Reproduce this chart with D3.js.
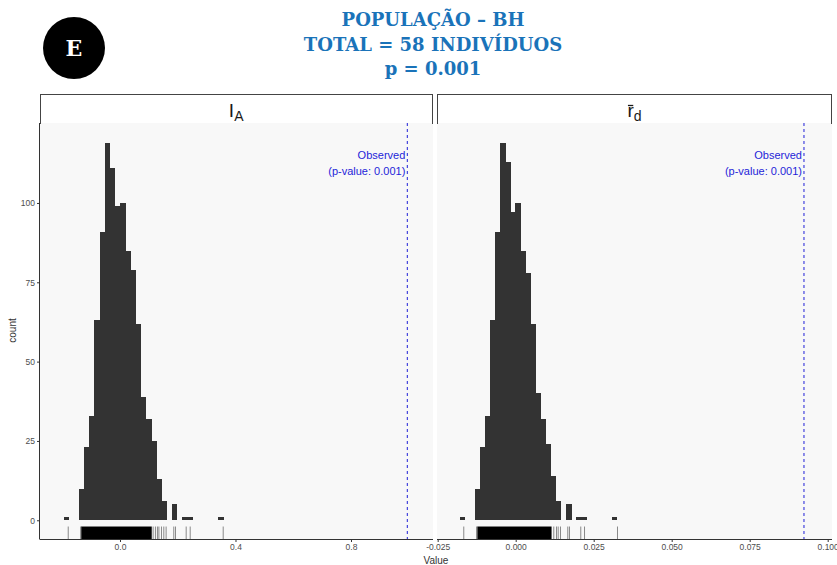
<!DOCTYPE html>
<html>
<head>
<meta charset="utf-8">
<script src="https://cdn.jsdelivr.net/npm/d3@7"></script>
<style>
  html, body { margin: 0; padding: 0; background: #ffffff; }
  svg { display: block; }
</style>
</head>
<body>
<svg id="chart" width="837" height="565"></svg>
<script>
// ---------------- DATA ----------------
const titleLines = ["POPULAÇÃO – BH", "TOTAL = 58 INDIVÍDUOS", "p = 0.001"];
const badgeLetter = "E";

const yTicks = [0, 25, 50, 75, 100];
const iaXTicks = [0.0, 0.4, 0.8];
const iaXTickLabels = ["0.0", "0.4", "0.8"];
const rdXTicks = [-0.025, 0.000, 0.025, 0.050, 0.075, 0.100];
const rdXTickLabels = ["-0.025", "0.000", "0.025", "0.050", "0.075", "0.100"];

// I_A histogram (bin left edges, counts)
const iaBinWidth = 0.01784;
const iaBinX0 = [-0.1955, -0.1420, -0.1241, -0.1063, -0.0884, -0.0706, -0.0527, -0.0349, -0.0170,
                 0.0008, 0.0187, 0.0365, 0.0544, 0.0722, 0.0901, 0.1079, 0.1258, 0.1436,
                 0.1793, 0.2150, 0.2328, 0.3399];
const iaCounts = [1, 10, 23, 33, 63, 91, 119, 111, 99,
                  100, 85, 79, 62, 39, 32, 25, 13, 6,
                  5, 1, 1, 1];
const iaObserved = 0.995;
const iaRug = [-0.181, -0.138, -0.135, 0.113, 0.121, 0.128, 0.133, 0.142, 0.150, 0.158,
               0.1846, 0.1905, 0.2275, 0.2414, 0.3557];
const iaRugDense = [[-0.1335, 0.110]];

// r_d histogram
const rdBinWidth = 0.001622;
const rdBinX0 = [-0.01791, -0.01304, -0.01142, -0.00980, -0.00818, -0.00655, -0.00493, -0.00331, -0.00169,
                 -0.00007, 0.00155, 0.00318, 0.00480, 0.00642, 0.00804, 0.00966, 0.01129, 0.01291,
                 0.01615, 0.01940, 0.02102, 0.03075];
const rdCounts = [1, 10, 23, 33, 63, 91, 119, 113, 97,
                  100, 85, 78, 62, 40, 32, 24, 14, 6,
                  5, 1, 1, 1];
const rdObserved = 0.0924;
const rdRug = [-0.0168, -0.0127, -0.0124, 0.01205, 0.01292, 0.01346, 0.0142,
               0.01654, 0.01708, 0.0207, 0.0219, 0.03247];
const rdRugDense = [[-0.0122, 0.0115]];

const observedLabel = ["Observed", "(p-value: 0.001)"];

// ---------------- LAYOUT ----------------
const svg = d3.select("#chart");
const panelTop = 123, panelBottom = 539, stripTop = 94;
const titleColor = "#1a73b9";
const obsColor = "#1f1fd8";
const barColor = "#333333";
const axisColor = "#333333";
const tickLabelColor = "#4d4d4d";
const sansFont = "'Liberation Sans', Arial, sans-serif";

const y = d3.scaleLinear().domain([-5.9, 125.2]).range([panelBottom, panelTop]);

const panels = [
  { key: "ia", left: 40, right: 433, domain: [-0.277, 1.084],
    binX0: iaBinX0, counts: iaCounts, bw: iaBinWidth, obs: iaObserved,
    rug: iaRug, dense: iaRugDense, ticks: iaXTicks, tickLabels: iaXTickLabels,
    main: "I", sub: "A", bar: false, yAxis: true },
  { key: "rd", left: 437, right: 832, domain: [-0.02522, 0.10138],
    binX0: rdBinX0, counts: rdCounts, bw: rdBinWidth, obs: rdObserved,
    rug: rdRug, dense: rdRugDense, ticks: rdXTicks, tickLabels: rdXTickLabels,
    main: "r", sub: "d", bar: true, yAxis: false }
];

// ---------------- TITLE ----------------
const title = svg.append("g");
titleLines.forEach((t, i) => {
  title.append("text")
    .attr("x", 433).attr("y", 26 + i * 24.5)
    .attr("text-anchor", "middle")
    .attr("font-family", "'DejaVu Serif', serif")
    .attr("font-weight", "bold")
    .attr("font-size", 18)
    .attr("fill", titleColor)
    .text(t);
});

// badge
svg.append("circle").attr("cx", 74).attr("cy", 48).attr("r", 31).attr("fill", "#000");
svg.append("text").attr("x", 74).attr("y", 56)
  .attr("text-anchor", "middle")
  .attr("font-family", "'DejaVu Serif', serif").attr("font-weight", "bold")
  .attr("font-size", 22).attr("fill", "#fff").text(badgeLetter);

// ---------------- PANELS ----------------
panels.forEach(p => {
  const x = d3.scaleLinear().domain(p.domain).range([p.left, p.right]);
  const g = svg.append("g");

  // panel background
  g.append("rect").attr("x", p.left).attr("y", panelTop)
    .attr("width", p.right - p.left).attr("height", panelBottom - panelTop)
    .attr("fill", "#f8f8f8");

  // strip
  g.append("rect").attr("x", p.left + 0.5).attr("y", stripTop + 0.5)
    .attr("width", p.right - p.left - 1).attr("height", panelTop - stripTop)
    .attr("fill", "#ffffff").attr("stroke", "#444").attr("stroke-width", 1);
  g.append("rect").attr("x", p.left + 1).attr("y", panelTop)
    .attr("width", p.right - p.left - 2).attr("height", 1.5).attr("fill", "#f8f8f8");

  const cx = (p.left + p.right) / 2;
  const lab = g.append("text")
    .attr("y", 117)
    .attr("font-family", sansFont)
    .attr("fill", "#1a1a1a");
  lab.append("tspan").attr("font-size", 19).text(p.main);
  lab.append("tspan").attr("font-size", 14).attr("dy", 4).text(p.sub);
  const bb = lab.node().getBBox();
  lab.attr("x", cx - bb.width / 2);
  lab.selectAll("tspan").filter((d, i) => i === 0).attr("x", cx - bb.width / 2);
  if (p.bar) {
    const ext = lab.node().getExtentOfChar(0);
    g.append("line")
      .attr("x1", ext.x + 0.5).attr("x2", ext.x + ext.width - 0.5)
      .attr("y1", 105.5).attr("y2", 105.5)
      .attr("stroke", "#1a1a1a").attr("stroke-width", 1.3);
  }

  // histogram bars
  g.append("g").attr("shape-rendering", "crispEdges").selectAll("rect")
    .data(p.binX0.map((d, i) => ({ x0: d, c: p.counts[i] })))
    .join("rect")
    .attr("x", d => x(d.x0))
    .attr("width", d => x(d.x0 + p.bw) - x(d.x0) + 0.4)
    .attr("y", d => y(d.c))
    .attr("height", d => y(0) - y(d.c))
    .attr("fill", barColor);

  // rug
  const rugTop = panelBottom - 0.03 * (panelBottom - panelTop);
  g.append("g").selectAll("rect")
    .data(p.dense).join("rect")
    .attr("x", d => x(d[0])).attr("width", d => x(d[1]) - x(d[0]))
    .attr("y", rugTop).attr("height", panelBottom - rugTop)
    .attr("fill", "#000");
  g.append("g").selectAll("line")
    .data(p.rug).join("line")
    .attr("x1", d => x(d) + 0.5).attr("x2", d => x(d) + 0.5)
    .attr("y1", rugTop).attr("y2", panelBottom)
    .attr("stroke", "#000").attr("stroke-opacity", 0.45).attr("stroke-width", 1);

  // observed line
  g.append("line")
    .attr("x1", x(p.obs)).attr("x2", x(p.obs))
    .attr("y1", panelTop).attr("y2", panelBottom)
    .attr("stroke", obsColor).attr("stroke-width", 1)
    .attr("stroke-dasharray", "3,3");
  observedLabel.forEach((t, i) => {
    g.append("text")
      .attr("x", x(p.obs) - 2).attr("y", 159 + i * 15.5)
      .attr("text-anchor", "end")
      .attr("font-family", sansFont).attr("font-size", 11)
      .attr("fill", obsColor).text(t);
  });

  // x axis
  const xAxis = d3.axisBottom(x).tickValues(p.ticks)
    .tickFormat((d, i) => p.tickLabels[i]).tickSize(3).tickPadding(2);
  const xa = g.append("g").attr("transform", `translate(0,${panelBottom})`).call(xAxis);
  xa.select(".domain").attr("stroke", axisColor).attr("d", `M${p.left},0.5H${p.right}`);
  xa.selectAll(".tick line").attr("stroke", axisColor);
  xa.selectAll(".tick text").attr("fill", tickLabelColor)
    .attr("font-family", sansFont).attr("font-size", 8.5);

  if (p.yAxis) {
    const yAxis = d3.axisLeft(y).tickValues(yTicks).tickSize(3).tickPadding(2);
    const ya = g.append("g").attr("transform", `translate(${p.left},0)`).call(yAxis);
    ya.select(".domain").attr("stroke", axisColor).attr("d", `M-0.5,${panelTop}V${panelBottom + 0.5}`);
    ya.selectAll(".tick line").attr("stroke", axisColor);
    ya.selectAll(".tick text").attr("fill", tickLabelColor)
      .attr("font-family", sansFont).attr("font-size", 8.5);
  }
});

// axis titles
svg.append("text").attr("x", 436).attr("y", 563.5)
  .attr("text-anchor", "middle").attr("font-family", sansFont)
  .attr("font-size", 10).attr("fill", "#333").text("Value");
svg.append("text")
  .attr("transform", "translate(16,330.5) rotate(-90)")
  .attr("text-anchor", "middle").attr("font-family", sansFont)
  .attr("font-size", 10).attr("fill", "#333").text("count");
</script>
</body>
</html>
